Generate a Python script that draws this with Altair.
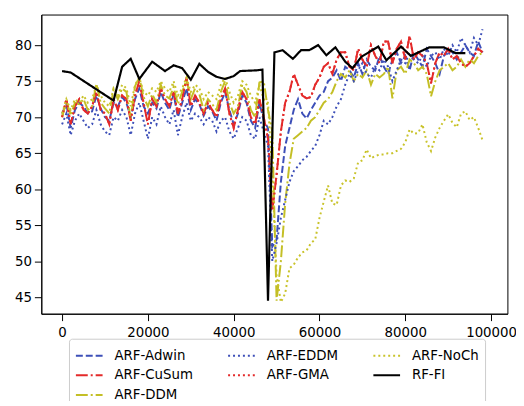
import altair as alt
import pandas as pd

X_STEP = 1000  # ARF series sampled every 1000 instances, starting at 0

ADWIN = [70.5, 71.8, 68.5, 71.0, 72.0, 71.5, 70.5, 70.8, 73.0, 71.2,
         70.0, 69.5, 72.0, 71.5, 72.8, 72.0, 70.0, 72.5, 74.0, 71.5,
         70.5, 72.0, 71.2, 73.5, 72.0, 71.0, 73.2, 70.0, 72.0, 74.0,
         71.0, 72.5, 71.8, 70.2, 71.5, 70.8, 69.5, 72.0, 73.5, 71.0,
         69.0, 70.5, 73.0, 72.0, 69.5, 68.5, 72.0, 69.5,
         68.5, 52.0, 53.0, 61.0, 66.0, 68.5, 71.0, 72.5, 70.5, 69.8,
         71.0, 72.0, 73.0, 73.5, 75.0, 75.5, 76.5, 75.0, 77.0, 76.5,
         75.5, 77.5, 76.0, 78.0, 77.0, 76.5, 78.5, 77.0, 76.0, 78.0,
         79.0, 77.5, 78.5, 76.5, 79.0, 78.0, 77.0, 79.5, 78.5, 77.5,
         76.0, 78.5, 79.5, 79.0, 78.0, 79.0, 80.0, 79.0, 78.5, 80.5, 79.0]

CUSUM = [70.0, 72.5, 69.0, 71.5, 72.5, 71.0, 70.5, 71.5, 73.5, 71.0,
         70.5, 69.0, 72.5, 71.0, 73.0, 72.5, 69.5, 73.0, 75.0, 72.0,
         69.0, 72.5, 71.5, 74.0, 72.5, 71.5, 73.5, 70.5, 72.5, 75.5,
         71.5, 73.0, 72.0, 70.5, 72.0, 71.0, 70.0, 72.5, 74.0, 70.5,
         68.5, 71.0, 73.5, 72.5, 70.0, 69.0, 72.5, 70.0,
         67.0, 57.0, 62.0, 68.0, 72.0, 73.5, 76.0, 74.5, 73.0, 72.6,
         72.8, 74.5, 75.5, 77.0, 77.5, 76.0, 78.0, 79.0, 79.0, 77.0,
         76.5, 79.5, 78.0, 77.0, 80.0, 78.5, 77.5, 80.5, 80.5, 77.5,
         79.5, 80.5, 78.0, 81.3, 78.0, 79.0, 78.5, 77.5, 74.7, 77.5,
         79.0, 78.5, 79.5, 78.0, 78.5, 77.5, 77.0, 77.5, 78.5, 79.5, 79.0]

DDM = [70.0, 72.3, 70.2, 72.0, 71.8, 72.5, 71.0, 71.5, 74.6, 72.0,
       71.2, 70.5, 73.8, 72.5, 74.0, 73.5, 69.8, 74.3, 75.5, 72.8,
       71.5, 73.2, 72.0, 74.5, 73.0, 72.6, 74.2, 71.8, 73.5, 75.2,
       72.5, 74.0, 73.2, 71.0, 72.5, 71.8, 71.0, 73.5, 75.0, 72.0,
       70.5, 71.5, 74.5, 73.5, 71.0, 70.0, 74.8, 75.0,
       71.0, 68.0, 44.5, 50.0, 58.0, 63.5, 67.0, 67.5, 68.0, 68.5,
       69.5, 70.0, 71.0, 72.0, 72.5, 73.5, 75.0, 76.0, 75.5, 76.5,
       75.0, 76.0, 75.5, 76.5, 74.5, 76.0, 75.5, 76.0, 77.0, 72.6,
       76.5, 77.0, 76.0, 78.0, 77.5, 76.5, 77.0, 76.0, 72.9, 75.0,
       76.5, 77.0, 77.5, 76.5, 77.0, 78.0, 77.0, 78.0, 77.5, 78.5, 79.0]

EDDM = [69.0, 70.5, 67.5, 69.5, 70.5, 69.5, 68.5, 69.0, 71.0, 69.0,
        68.0, 67.5, 70.0, 69.5, 71.0, 70.0, 67.5, 70.5, 72.0, 69.5,
        67.0, 70.0, 69.0, 71.5, 70.0, 69.0, 71.0, 67.5, 70.0, 72.0,
        69.5, 70.5, 70.0, 69.0, 70.0, 69.5, 68.0, 69.5, 70.0, 68.0,
        67.0, 68.5, 70.0, 69.5, 67.5, 67.0, 70.0, 68.0,
        66.0, 50.0, 52.5, 56.0, 58.5, 61.0, 62.5, 63.2, 64.0, 64.5,
        65.3, 66.0, 67.5, 69.5, 69.0, 70.0, 71.5, 72.5, 74.5, 76.0,
        75.0, 76.5, 77.5, 76.0, 75.5, 77.0, 76.5, 78.0, 77.0, 75.0,
        76.5, 78.0, 77.5, 79.0, 78.0, 77.5, 78.5, 77.0, 78.5, 79.0,
        78.0, 79.5, 78.5, 80.0, 79.0, 81.0, 80.0, 79.0, 81.0, 80.0, 82.2]

GMA = list(CUSUM)

NOCH = [70.5, 72.5, 71.0, 72.5, 72.0, 73.0, 72.0, 72.5, 74.5, 73.0,
        72.0, 71.5, 74.0, 73.0, 74.5, 74.0, 71.5, 74.5, 75.5, 73.5,
        73.0, 74.0, 73.5, 75.0, 74.0, 73.5, 75.0, 73.0, 74.0, 75.5,
        73.5, 74.5, 74.0, 72.5, 73.5, 73.0, 72.5, 74.5, 75.5, 73.5,
        72.0, 73.0, 75.0, 74.5, 73.0, 72.0, 74.5, 72.5,
        72.0, 62.0, 48.0, 44.3, 45.5, 49.0, 49.5, 50.5, 51.2, 51.5,
        52.5, 53.0, 56.0, 58.3, 60.5, 58.0, 57.8, 60.5, 61.2, 61.0,
        61.5, 63.7, 64.0, 65.5, 64.3, 64.6, 64.8, 64.8, 65.0, 65.0,
        65.3, 65.6, 66.5, 68.3, 67.7, 67.8, 69.0, 66.5, 65.3, 67.2,
        68.5, 69.5, 70.4, 69.2, 68.6, 70.5, 70.8, 69.6, 70.0, 68.5, 66.8]

RF_X = [0, 2000, 12000, 14000, 16000, 18000, 21000, 24000, 26000, 28000,
        30000, 32000, 34000, 36000, 38000, 40000, 41500, 45300, 46700, 48000,
        49500, 51400, 53800, 55700, 57600, 59700, 61600, 63700, 66000, 67700,
        69800, 73700, 75600, 79000, 81300, 85600, 89000, 91700, 94000]
RF_Y = [76.4, 76.2, 72.3, 77.0, 78.1, 75.3, 77.7, 76.4, 77.2, 76.8,
        75.2, 77.4, 76.3, 75.6, 75.3, 75.7, 76.4, 76.5, 76.6, 44.5,
        79.0, 79.3, 78.1, 79.3, 79.3, 80.0, 78.6, 79.7, 77.7, 76.8,
        78.4, 79.8, 77.9, 79.8, 78.5, 79.7, 79.7, 78.9, 78.9]

SERIES = ["ARF-Adwin", "ARF-CuSum", "ARF-DDM", "ARF-EDDM", "ARF-GMA", "ARF-NoCh", "RF-FI"]
X_TICKS = [0, 20000, 40000, 60000, 80000, 100000]
Y_TICKS = [45, 50, 55, 60, 65, 70, 75, 80]

# Vega fills a 3-column legend in the order d0,d3,d6,d1,d4,d2,d5; this domain
# gives the original's column layout (Adwin/CuSum/DDM | EDDM/GMA | NoCh/RF-FI).
LEGEND_ORDER = ["ARF-Adwin", "ARF-CuSum", "RF-FI", "ARF-EDDM", "ARF-GMA", "ARF-DDM", "ARF-NoCh"]

rows = []
for name, vals in zip(SERIES[:-1], [ADWIN, CUSUM, DDM, EDDM, GMA, NOCH]):
    for i, v in enumerate(vals):
        rows.append({"x": i * X_STEP, "acc": v, "series": name})
for xv, yv in zip(RF_X, RF_Y):
    rows.append({"x": xv, "acc": yv, "series": "RF-FI"})
df = pd.DataFrame(rows)

COLORS = {"ARF-Adwin": "#3d4fb8", "ARF-CuSum": "#e42a2a", "ARF-DDM": "#c4bf26",
          "ARF-EDDM": "#3d4fb8", "ARF-GMA": "#e42a2a", "ARF-NoCh": "#c9c32b", "RF-FI": "#000000"}
DASHES = {"ARF-Adwin": [7, 3], "ARF-CuSum": [12, 3, 2, 3], "ARF-DDM": [12, 3, 2, 3],
          "ARF-EDDM": [2, 3], "ARF-GMA": [2, 3], "ARF-NoCh": [2, 3], "RF-FI": [1, 0]}

FONT = "DejaVu Sans"

legend = alt.Legend(
    orient="none", legendX=28, legendY=328, columns=3, title=None,
    symbolType="M-1.35,0L1.35,0", symbolSize=400, symbolStrokeWidth=2,
    symbolOffset=3.5,
    labelFont=FONT, labelFontSize=13.5, labelColor="black", labelOffset=14.5,
    columnPadding=31, rowPadding=2, padding=6,
    fillColor="white", strokeColor="#cccccc", cornerRadius=3,
)

base = alt.Chart(df).encode(
    x=alt.X("x:Q", title=None,
            scale=alt.Scale(domain=[-4840, 103800], nice=False, zero=False),
            axis=alt.Axis(values=X_TICKS, format="d")),
    y=alt.Y("acc:Q", title=None,
            scale=alt.Scale(domain=[42.7, 84.25], nice=False, zero=False),
            axis=alt.Axis(values=Y_TICKS)),
    color=alt.Color("series:N", legend=legend,
                    scale=alt.Scale(domain=LEGEND_ORDER, range=[COLORS[s] for s in LEGEND_ORDER])),
    strokeDash=alt.StrokeDash("series:N", legend=legend,
                              scale=alt.Scale(domain=LEGEND_ORDER, range=[DASHES[s] for s in LEGEND_ORDER])),
)

arf = base.transform_filter(alt.datum.series != "RF-FI").mark_line(strokeWidth=2)
rf = base.transform_filter(alt.datum.series == "RF-FI").mark_line(strokeWidth=2.2)

chart = alt.layer(arf, rf).properties(
    width=471.6, height=302.7,
    autosize=alt.AutoSizeParams(type="none"),
    padding={"left": 33.7, "top": 4.3, "right": 8.7, "bottom": 86},
).configure_view(
    stroke="black", strokeWidth=1
).configure_axis(
    grid=False, domainColor="black", domainWidth=1, tickColor="black", tickWidth=1,
    tickSize=7, labelFont=FONT, labelFontSize=13.5, labelColor="black",
).configure_axisX(labelPadding=5).configure_axisY(labelPadding=3)

chart.save("out.html", embed_options={"renderer": "svg", "actions": False})
